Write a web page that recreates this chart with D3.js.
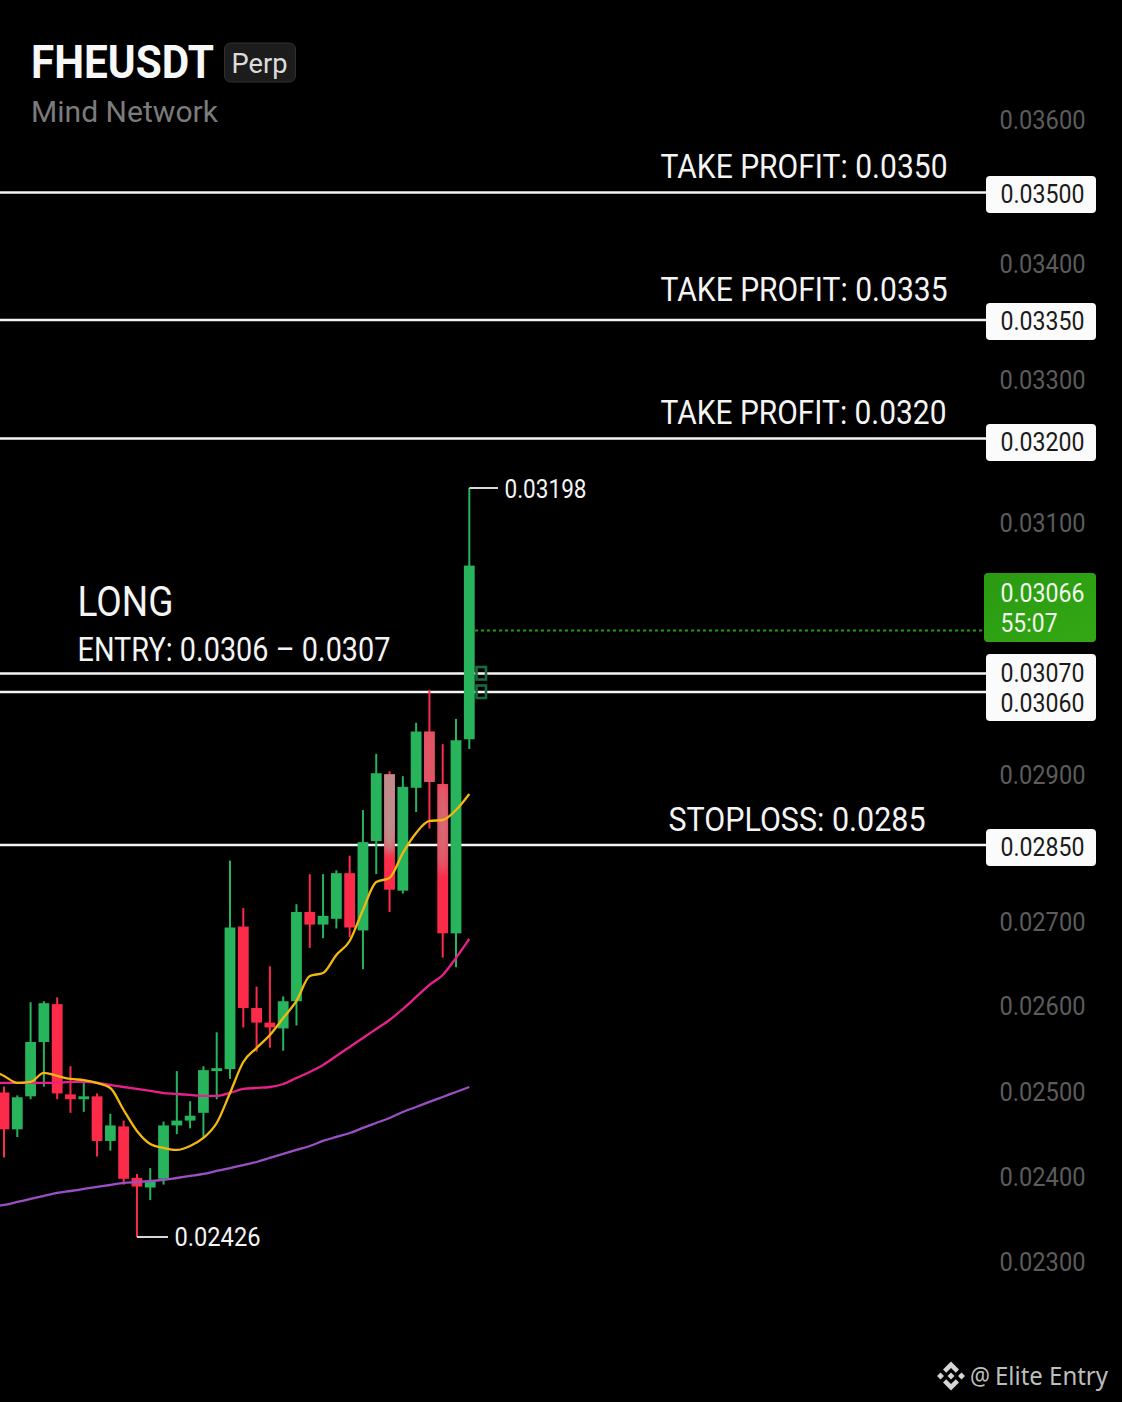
<!DOCTYPE html>
<html>
<head>
<meta charset="utf-8">
<script src="https://cdn.jsdelivr.net/npm/d3@7.9.0/dist/d3.min.js"></script>
<style>
  html, body { margin: 0; background: #000; }
  svg { display: block; }
  text { font-family: Roboto, sans-serif; }
</style>
</head>
<body>
<svg id="chart" width="1122" height="1402"></svg>
<script>
// candles, oldest first: open, high, low, close
const opens  = [.02575,.02537,.02571,.02627,.02666,.02573,.02568,.02571,.02525,.0254,.02487,.02477,.02486,.02541,.02546,.02554,.02597,.02599,.02746,.02662,.02647,.02641,.02669,.02761,.02748,.02754,.02801,.02742,.02834,.02903,.02783,.02889,.02947,.02893,.02739,.02939];
const highs  = [.02581,.02572,.02668,.02669,.02673,.02602,.02586,.02574,.02553,.02546,.02491,.02497,.02545,.02597,.02566,.02602,.02637,.02814,.02765,.02684,.02705,.02674,.02769,.028,.028,.02804,.02819,.02866,.02924,.02906,.02901,.02956,.0299,.02934,.0296,.03198];
const lows   = [.02508,.02529,.02568,.02581,.02568,.02554,.02555,.02509,.02515,.0248,.02426,.02464,.0248,.02532,.02538,.02528,.02568,.02589,.02642,.02617,.02621,.02618,.02644,.02724,.02734,.02744,.02735,.02702,.028,.02761,.0278,.02864,.02847,.02714,.02704,.02929];
const closes = [.02537,.0257,.02627,.02667,.02574,.02568,.02571,.02525,.02541,.02486,.02478,.02483,.02541,.02546,.02551,.02598,.026,.02745,.02662,.02647,.02642,.02669,.02761,.02748,.02757,.02801,.02745,.02833,.02904,.02784,.0289,.02947,.02895,.02739,.02938,.03118];

// moving averages, first value sits one candle before the first candle
const ma7  = [.025982,.02592,.025848,.025858,.025951,.02592,.025889,.025878,.025848,.025796,.025569,.025353,.025219,.025178,.025157,.025198,.025281,.025435,.025744,.026064,.026208,.026342,.026517,.026693,.02695,.026981,.027167,.027311,.027631,.027919,.02796,.028218,.028424,.028548,.028558,.028661,.028826];
const ma25 = [.025848,.025848,.025848,.025848,.025848,.025848,.025858,.025858,.025848,.025827,.025806,.025786,.025765,.025744,.025734,.025724,.025714,.025714,.025745,.025786,.025796,.025806,.025837,.025899,.025961,.026033,.026126,.026219,.026311,.026404,.026497,.02661,.026734,.026858,.026961,.027136,.027332];
const ma99 = [.024569,.02459,.024621,.024652,.024683,.024714,.024734,.024755,.024776,.024796,.024817,.024827,.024837,.024848,.024868,.024889,.02491,.024941,.024971,.025002,.025033,.025075,.025116,.025157,.025198,.02525,.025291,.025332,.025384,.025435,.025487,.025549,.0256,.025652,.025703,.025755,.025806];

const axisTicks = [.036,.034,.033,.031,.029,.027,.026,.025,.024,.023];
const levelValues = [.035,.0335,.032,.0307,.0306,.0285];
const levelNames = ['TAKE PROFIT: 0.0350','TAKE PROFIT: 0.0335','TAKE PROFIT: 0.0320','','','STOPLOSS: 0.0285'];
const priceLine = .03051;
const highLabel = .03198;
const lowLabel = .02426;

const svg = d3.select('#chart');
svg.append('rect').attr('width', 1122).attr('height', 1402).attr('fill', '#000');

const defs = svg.append('defs');
defs.append('filter').attr('id', 'soft')
  .attr('x', '-100%').attr('width', '300%').attr('y', '-30%').attr('height', '160%')
  .append('feGaussianBlur').attr('stdDeviation', 5);
const grad = defs.append('linearGradient').attr('id', 'lastTag').attr('x1', 0).attr('x2', 1).attr('y1', 0).attr('y2', 1);
grad.append('stop').attr('offset', '0%').attr('stop-color', '#2a9a12');
grad.append('stop').attr('offset', '100%').attr('stop-color', '#33a814');

const x = d3.scaleLinear().domain([0, 35]).range([4, 469.3]);
const y = d3.scaleLinear().domain([lowLabel, highLabel]).range([1237, 488]);
// the right hand scale in the picture is not even, so it gets its own piecewise scale
const side = d3.scaleLinear()
  .domain([.036,.035,.034,.0335,.033,.032,.031,.0307,.0306,.029,.0285,.027,.026,.025,.024,.023])
  .range([120,192.5,264,320,380,438.5,523,673.5,692,775,845,922,1006,1092,1177,1262]);

const green = '#27b45c', red = '#fb2b49', white = '#f4f4f4';
const bodyW = 10.8;

function label(text, px, py, size, fill, width, weight) {
  return svg.append('text')
    .attr('x', px).attr('y', py)
    .attr('font-size', size).attr('fill', fill)
    .attr('font-weight', weight || 400)
    .attr('textLength', width).attr('lengthAdjust', 'spacingAndGlyphs')
    .text(text);
}

// level lines go under the candles
svg.append('g').selectAll('line').data(levelValues).join('line')
  .attr('x1', 0).attr('x2', 986)
  .attr('y1', d => side(d)).attr('y2', d => side(d))
  .attr('stroke', white).attr('stroke-width', 2.6);

// ghost boxes next to the last candle
svg.append('g').selectAll('rect').data([.0307, .0306]).join('rect')
  .attr('x', 476.5).attr('width', 9.5)
  .attr('y', d => side(d) - 6.5).attr('height', 12.5)
  .attr('fill', 'none').attr('stroke', '#1b6a3e').attr('stroke-width', 2.6);

svg.append('line')
  .attr('x1', 475).attr('x2', 984)
  .attr('y1', y(priceLine)).attr('y2', y(priceLine))
  .attr('stroke', '#1f9e12').attr('stroke-width', 2).attr('stroke-dasharray', '3 3');

const candles = opens.map((o, i) => ({ i, o, h: highs[i], l: lows[i], c: closes[i] }));
const color = d => d.c >= d.o ? green : red;

const cg = svg.append('g');
cg.selectAll('line').data(candles).join('line')
  .attr('x1', d => x(d.i)).attr('x2', d => x(d.i))
  .attr('y1', d => y(d.h)).attr('y2', d => y(d.l))
  .attr('stroke', color).attr('stroke-width', 2);
cg.selectAll('rect').data(candles).join('rect')
  .attr('x', d => x(d.i) - bodyW / 2).attr('width', bodyW)
  .attr('y', d => y(Math.max(d.o, d.c)))
  .attr('height', d => Math.max(1, Math.abs(y(d.o) - y(d.c))))
  .attr('fill', color);

// washed out patches on the red candles near the top, blurred and clipped to the body
const washed = [29, 32, 33];
const washMid = [.02885, .0292, .0285];
const washRy = [62, 40, 48];
const washOp = [.7, .3, .55];
const clips = defs.selectAll('clipPath').data(washed).join('clipPath').attr('id', d => 'wash' + d);
clips.append('rect')
  .attr('x', d => x(d) - bodyW / 2).attr('width', bodyW)
  .attr('y', d => y(opens[d])).attr('height', d => y(closes[d]) - y(opens[d]));
svg.append('g').selectAll('g').data(washed).join('g')
  .attr('clip-path', d => `url(#wash${d})`)
  .append('ellipse')
  .attr('cx', d => x(d))
  .attr('cy', (d, i) => y(washMid[i]))
  .attr('rx', (d, i) => i === 2 ? 6 : 14)
  .attr('ry', (d, i) => washRy[i])
  .attr('fill', '#a9b5a8')
  .attr('opacity', (d, i) => washOp[i])
  .attr('filter', 'url(#soft)');

const line = d3.line().x((d, i) => x(i - 1)).y(d => y(d)).curve(d3.curveMonotoneX);
const maLines = svg.append('g').attr('fill', 'none').attr('stroke-width', 2.3);
maLines.append('path').attr('d', line(ma99)).attr('stroke', '#9a4fc4');
maLines.append('path').attr('d', line(ma25)).attr('stroke', '#ea1f8e');
maLines.append('path').attr('d', line(ma7)).attr('stroke', '#f4b90e');

// high and low callouts
svg.append('line').attr('x1', x(35)).attr('x2', 498).attr('y1', y(highLabel)).attr('y2', y(highLabel)).attr('stroke', '#d8d8d8').attr('stroke-width', 2);
label('0.03198', 504.5, 498, 25, white, 82);
svg.append('line').attr('x1', x(10)).attr('x2', 168).attr('y1', y(lowLabel)).attr('y2', y(lowLabel)).attr('stroke', '#d8d8d8').attr('stroke-width', 2);
label('0.02426', 174.5, 1246, 25, white, 86);

// right axis
const fmt = d3.format('.5f');
const axisG = svg.append('g').attr('transform', 'translate(999.5,0)')
  .call(d3.axisRight(side).tickValues(axisTicks).tickFormat(fmt).tickSize(0).tickPadding(0));
axisG.select('.domain').remove();
axisG.selectAll('text')
  .attr('font-size', 25).attr('fill', '#5c5c5c')
  .attr('font-family', 'Roboto, sans-serif')
  .attr('textLength', 86).attr('lengthAdjust', 'spacingAndGlyphs');

// level tags
const tagBoxes = [[176, 37], [303, 37], [424, 37], [654, 67], [829, 37]];
svg.append('g').selectAll('rect').data(tagBoxes).join('rect')
  .attr('x', 986).attr('width', 110).attr('rx', 4)
  .attr('y', d => d[0]).attr('height', d => d[1])
  .attr('fill', '#fbfbfb');
const tagBaselines = [203, 330, 451, 682, 712, 856];
levelValues.forEach((v, i) => {
  label(fmt(v), 1000.5, tagBaselines[i], 25, '#1a1a1a', 84);
});

// last price tag
svg.append('rect').attr('x', 984).attr('y', 573).attr('width', 112).attr('height', 69).attr('rx', 4).attr('fill', 'url(#lastTag)');
label('0.03066', 1000.5, 602, 25, '#f2f7ee', 84);
label('55:07', 1000.5, 632, 25, '#f2f7ee', 57);

// level captions
const captionX = [660.5, 660.5, 660.5, 0, 0, 668.5];
const captionW = [287, 287, 286, 0, 0, 257];
const captionY = [178, 301, 424, 0, 0, 831];
levelNames.forEach((name, i) => {
  if (name) label(name, captionX[i], captionY[i], 34, white, captionW[i]);
});

label('LONG', 77.5, 616, 42, white, 96);
label('ENTRY: 0.0306 – 0.0307', 77.5, 661, 33, white, 313);

// header
label('FHEUSDT', 31, 78, 46, '#f7f7f7', 183, 700);
svg.append('rect').attr('x', 224.5).attr('y', 43).attr('width', 71).attr('height', 39).attr('rx', 6)
  .attr('fill', '#1c1c1c').attr('stroke', '#303030');
label('Perp', 231.5, 73, 27, '#dcdcdc', 56);
label('Mind Network', 31, 122, 30, '#7b7b7b', 187);

// watermark
const mark = svg.append('g').attr('transform', 'translate(951,1376)').attr('fill', '#d6d6d6');
mark.append('path').attr('d', 'M0,-14.5 L8,-6.5 L4.8,-3.3 L0,-8 L-4.8,-3.3 L-8,-6.5 Z');
mark.append('path').attr('d', 'M0,14.5 L8,6.5 L4.8,3.3 L0,8 L-4.8,3.3 L-8,6.5 Z');
mark.append('path').attr('d', 'M0,-3.5 L3.5,0 L0,3.5 L-3.5,0 Z');
mark.append('path').attr('d', 'M-10.5,-3.5 L-7,0 L-10.5,3.5 L-14,0 Z');
mark.append('path').attr('d', 'M10.5,-3.5 L14,0 L10.5,3.5 L7,0 Z');
label('@', 970, 1385, 25, '#bdbdbd', 20).style('font-family', '"Noto Sans", sans-serif');
label('Elite Entry', 995, 1385, 25, '#bdbdbd', 113).style('font-family', '"Noto Sans", sans-serif');
</script>
</body>
</html>
